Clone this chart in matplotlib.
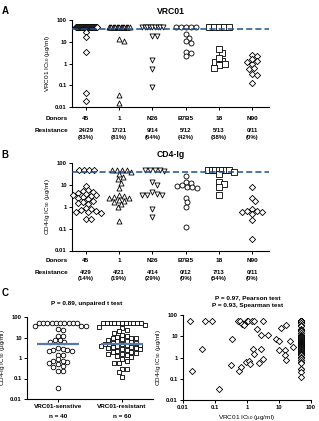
"""Recreate the VRC01 / CD4-Ig IC50 dot-plot figure (panels A, B, C)."""

import numpy as np
import matplotlib

matplotlib.use("Agg")
import matplotlib.pyplot as plt

plt.rcParams["font.family"] = ["Liberation Sans", "DejaVu Sans"]
plt.rcParams["font.weight"] = "bold"
plt.rcParams["mathtext.default"] = "regular"

W, H = 319, 421
CAP = 50.0          # values plotted at the top = above tested range
CUTOFF = 40.0       # dashed resistance line
LINE_BLUE = "#1d4f91"
MEAN_BLUE = "#5679b0"

# ---- data ---------------------------------------------------------------
donors = ["45", "1", "N26", "B7B5", "18", "N90"]
donor_markers = ["D", "^", "v", "o", "s", "D"]
donor_totals = [29, 21, 14, 12, 13, 11]
vrc01_resistant = [24, 17, 9, 5, 5, 0]
cd4_resistant = [4, 4, 4, 0, 7, 0]

vrc01_45 = [50] * 24 + [28, 16, 3.4, 0.045, 0.018]
vrc01_1 = [50] * 17 + [11, 13, 0.036, 0.015]
vrc01_n26 = [50] * 9 + [19, 19, 1.4, 0.55, 0.08]
vrc01_b7b5 = [50] * 5 + [23, 15.5, 10.5, 9, 3.3, 2.1, 2.9]
vrc01_18 = [50] * 5 + [3.2, 4.6, 1.3, 1.2, 1.8, 0.96, 0.85, 0.65]
vrc01_n90 = [2.5, 2.2, 1.2, 0.93, 1.24, 1.58, 0.57, 0.61, 0.34, 0.29, 0.13]

cd4_45 = [50] * 4 + [9, 5.8, 5.2, 4.8, 4.2, 3.8, 3.6, 3.3, 3.0, 2.8, 2.5, 2.2, 1.9,
                     1.7, 1.5, 1.4, 0.85, 0.8, 0.7, 0.65, 0.6, 0.55, 0.5, 0.27, 0.27]
cd4_1 = [50] * 4 + [40, 30, 22, 18, 12, 7.5, 3.5, 3.0, 2.8, 2.6, 2.5, 2.0, 1.8, 1.6,
                    1.3, 0.95, 0.22]
cd4_n26 = [50] * 4 + [42, 13, 10, 4.6, 3.7, 3.6, 3.6, 3.5, 0.8, 0.33]
cd4_b7b5 = [26, 14, 12, 9.3, 7.6, 7, 7.6, 9.5, 2.5, 1.6, 1.0, 0.12]
cd4_18 = [50] * 7 + [40, 30, 14, 10.7, 7.6, 3.3]
cd4_n90 = [7.8, 2.6, 1.75, 0.82, 0.66, 0.55, 0.47, 0.57, 0.66, 0.26, 0.035]

# VRC01-sensitive viruses: (VRC01 IC50, CD4-Ig IC50)
sens_vrc01 = [0.016, 0.019, 0.039, 0.047, 0.083, 0.135, 0.31, 0.35, 0.54, 0.61,
              0.68, 0.80, 0.98, 1.1, 1.4, 1.67, 0.57, 0.63, 0.9, 1.15,
              1.2, 1.5, 1.6, 2.1, 2.3, 2.7, 2.8, 3.1, 3.1, 4.4,
              8.1, 10, 10, 11.8, 16.6, 15, 15, 16.6, 22, 27]
sens_cd4 = [50, 0.24, 2.4, 50, 50, 0.034, 0.43, 7.2, 50, 50,
            38, 35, 50, 50, 50, 50, 0.24, 0.36, 0.61, 0.71,
            0.5, 2.6, 1.45, 23, 0.56, 2.4, 11.8, 0.88, 50, 11.8,
            7.8, 6.2, 2.3, 25, 35, 2.3, 1.35, 0.73, 6.2, 3.1]
# VRC01-resistant viruses (VRC01 IC50 > 50)
res_cd4 = [50] * 11 + [40, 34, 30, 22, 20, 17, 14, 12, 11, 10, 9.5, 9, 8, 7.5, 7,
                       6.5, 6, 5.5, 5.2, 5, 4.8, 4.5, 4.2, 4, 3.8, 3.5, 3.3, 3.2, 3,
                       2.8, 2.6, 2.4, 2.2, 2, 1.9, 1.8, 1.6, 1.5, 1.4, 1.3, 1.1, 0.9,
                       0.75, 0.6, 0.55, 0.3, 0.28, 0.2, 0.12]
group_means = [5.0, 4.7]
group_names = ["VRC01-senstive", "VRC01-resistant"]

log_ticks = [0.01, 0.1, 1, 10, 100]
log_labels = ["0.01", "0.1", "1", "10", "100"]


# ---- helpers ------------------------------------------------------------
def rect(left, top, right, bottom):
    return [left / W, 1 - bottom / H, (right - left) / W, (bottom - top) / H]


def ftext(fig, x, y, s, **kw):
    kw.setdefault("ha", "center")
    kw.setdefault("va", "center")
    fig.text(x / W, 1 - y / H, s, **kw)


def swarm(values, px_x, px_dec, diam, max_half, gap=0.78):
    """Horizontal offsets (data units) so dots barely overlap, Prism-like."""
    vals = np.asarray(values, float)
    ly = np.log10(vals) * px_dec
    offs = np.zeros(len(vals))
    placed = []
    top = np.isclose(vals, CAP)
    idx = np.where(top)[0]
    if len(idx):
        half = min((len(idx) - 1) * diam / 2, max_half)
        xs = np.linspace(-half, half, len(idx)) if len(idx) > 1 else [0.0]
        offs[idx] = xs
        placed += [(x, ly[i]) for x, i in zip(xs, idx)]
    step = diam / 3
    for i in np.argsort(-vals, kind="stable"):
        if top[i]:
            continue
        k, slot = 0, None
        while slot is None:
            for cand in ([0.0] if k == 0 else [k * step, -k * step]):
                if all(np.hypot(cand - px, ly[i] - py) >= diam * gap for px, py in placed):
                    slot = cand
                    break
            k += 1
        offs[i] = slot
        placed.append((slot, ly[i]))
    return offs / px_x


def style_log_y(ax, ylabel, fs=4.2):
    ax.set_yscale("log")
    ax.set_ylim(0.01, 100)
    ax.set_yticks(log_ticks)
    ax.set_yticklabels(log_labels)
    ax.yaxis.set_minor_locator(matplotlib.ticker.NullLocator())
    ax.set_ylabel(ylabel, fontsize=4.6, labelpad=2)
    for side in ("top", "right"):
        ax.spines[side].set_visible(False)
    for side in ("left", "bottom"):
        ax.spines[side].set_linewidth(0.8)
    ax.tick_params(axis="both", length=2.2, width=0.7, labelsize=fs, pad=1.5)


def donor_panel(fig, box, title, groups, resistant, ylabel, label, label_y, rows_y):
    left, top, right, bottom = box
    ax = fig.add_axes(rect(*box))
    spacing = 33.2
    xlim = (-(86 - left) / spacing, (right - 86) / spacing)
    px_dec = (bottom - top) / 4
    for i, (vals, marker) in enumerate(zip(groups, donor_markers)):
        offs = swarm(vals, spacing, px_dec, 5.0, 10.5, gap=0.85)
        size = 10 if marker == "D" else 13
        ax.scatter(i + offs, vals, marker=marker, s=size, facecolors="white",
                   edgecolors="black", linewidths=0.6, zorder=3, clip_on=False)
    ax.axhline(CUTOFF, color=LINE_BLUE, lw=1.1, dashes=(4, 2), zorder=4)
    ax.set_xlim(*xlim)
    ax.set_xticks(range(len(donors)))
    ax.set_xticklabels([])
    style_log_y(ax, ylabel)
    ftext(fig, (left + right) / 2, top - 8.5, title, fontsize=6.2)
    ftext(fig, 5, label_y, label, fontsize=7)
    ftext(fig, 68, rows_y[0], "Donors", fontsize=4.6, ha="right")
    ftext(fig, 68, rows_y[1], "Resistance", fontsize=4.6, ha="right")
    for i, name in enumerate(donors):
        xpix = 86 + i * spacing
        pct = round(100 * resistant[i] / donor_totals[i])
        ftext(fig, xpix, rows_y[0], name, fontsize=4.6)
        ftext(fig, xpix, rows_y[1], f"{resistant[i]}/{donor_totals[i]}", fontsize=4.3)
        ftext(fig, xpix, rows_y[2], f"({pct}%)", fontsize=4.3)
    return ax


# ---- figure -------------------------------------------------------------
fig = plt.figure(figsize=(W / 100, H / 100), dpi=100)

vrc01_groups = [vrc01_45, vrc01_1, vrc01_n26, vrc01_b7b5, vrc01_18, vrc01_n90]
cd4_groups = [cd4_45, cd4_1, cd4_n26, cd4_b7b5, cd4_18, cd4_n90]

donor_panel(fig, (72, 20, 269, 107), "VRC01", vrc01_groups, vrc01_resistant,
            "VRC01 IC$_{50}$ (µg/ml)", "A", 11, (119, 131, 137))
donor_panel(fig, (72, 163, 269, 250.5), "CD4-Ig", cd4_groups, cd4_resistant,
            "CD4-Ig IC$_{50}$ (µg/ml)", "B", 155, (261, 272.5, 278.5))

# C left: CD4-Ig by VRC01 sensitivity
box = (27, 317, 153, 399)
axc = fig.add_axes(rect(*box))
spacing = 64
px_dec = (box[3] - box[1]) / 4
for i, (vals, marker) in enumerate([(sens_cd4, "o"), (res_cd4, "s")]):
    offs = swarm(vals, spacing, px_dec, 4.6, 19, gap=0.95)
    axc.scatter(i + offs, vals, marker=marker, s=11, facecolors="white",
                edgecolors="black", linewidths=0.6, zorder=3, clip_on=False)
    axc.hlines(group_means[i], i - 0.33, i + 0.33, color=MEAN_BLUE, lw=1.6, zorder=4)
axc.set_xlim(-(58 - box[0]) / spacing, (box[2] - 58) / spacing)
axc.set_xticks([0, 1])
axc.set_xticklabels([])
style_log_y(axc, "CD4-Ig IC$_{50}$ (µg/ml)")
ftext(fig, 87, 303, "P = 0.89, unpaired t test", fontsize=4.6)
ftext(fig, 5, 293, "C", fontsize=7)
ftext(fig, 58, 407, group_names[0], fontsize=4.6)
ftext(fig, 122, 407, group_names[1], fontsize=4.6)
ftext(fig, 58, 416, f"n = {len(sens_cd4)}", fontsize=4.6)
ftext(fig, 122, 416, f"n = {len(res_cd4)}", fontsize=4.6)

# C right: correlation of VRC01 and CD4-Ig IC50
axs = fig.add_axes(rect(183, 315, 311, 400))
xs = sens_vrc01 + [CAP] * len(res_cd4)
ys = sens_cd4 + res_cd4
axs.scatter(xs, ys, marker="D", s=10, facecolors="white", edgecolors="black",
            linewidths=0.6, zorder=3, clip_on=False)
axs.set_xscale("log")
axs.set_xlim(0.01, 100)
axs.set_xticks(log_ticks)
axs.set_xticklabels(log_labels)
axs.xaxis.set_minor_locator(matplotlib.ticker.NullLocator())
style_log_y(axs, "CD4-Ig IC$_{50}$ (µg/ml)")
axs.set_xlabel("VRC01 IC$_{50}$ (µg/ml)", fontsize=4.6, labelpad=2)
ftext(fig, 248, 298, "P = 0.97, Pearson test", fontsize=4.6)
ftext(fig, 248, 305, "P = 0.93, Spearman test", fontsize=4.6)

fig.savefig("out.png", dpi=100)
